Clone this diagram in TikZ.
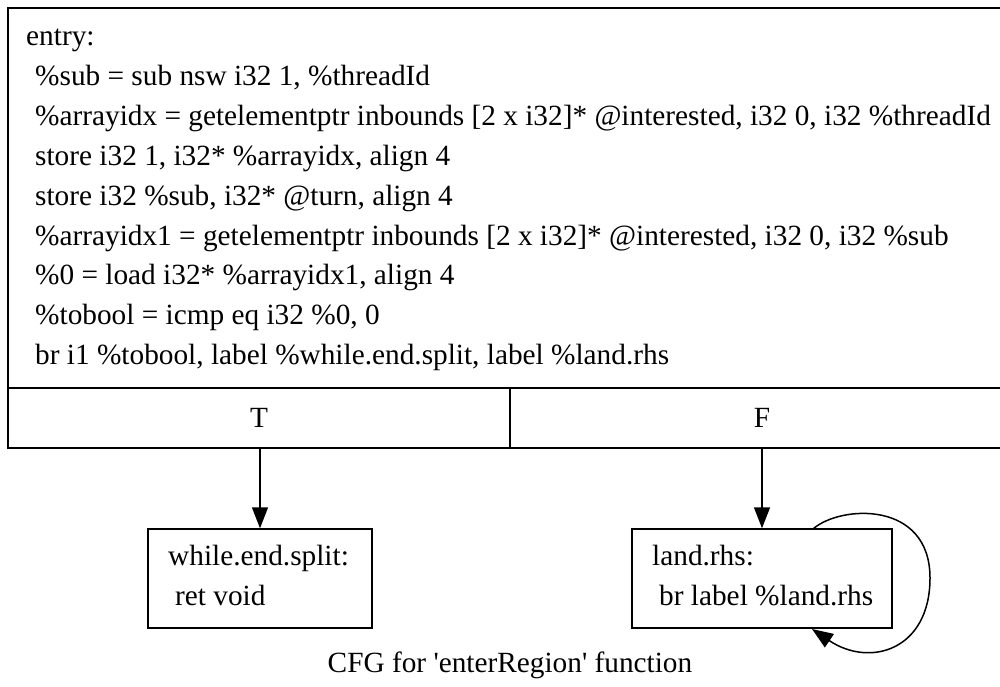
\documentclass[tikz,border=0pt]{standalone}
\usepackage{fontspec}
\newfontfamily\tnr{Liberation Serif}
\usetikzlibrary{arrows.meta}
\begin{document}
\begin{tikzpicture}[x=1pt,y=-1pt,
  boxframe/.style={draw=black, line width=1.5pt, inner sep=0pt},
  codetxt/.style={anchor=base west, inner sep=0pt, font=\tnr\fontsize{29.3}{40}\selectfont},
  celltxt/.style={draw=black, line width=1.5pt, inner sep=0pt, minimum height=60pt, font=\tnr\fontsize{29.3}{40}\selectfont},
  flow/.style={draw=black, line width=1.5pt, -{Triangle[length=21pt,width=16pt]}}]
\useasboundingbox (0,0) rectangle (1000,686);
\fill[white] (0,0) rectangle (1000,686);
\clip (0,0) rectangle (1000,686);
% entry block
\node[boxframe, minimum width=1006pt, minimum height=380pt] (entrybody) at (511,198) {};
\node[codetxt] (l1) at (26,45) {entry:};
\node[codetxt] (l2) at (35,85) {\%sub = sub nsw i32 1, \%threadId};
\node[codetxt] (l3) at (35,125) {\%arrayidx = getelementptr inbounds [2 x i32]* @interested, i32 0, i32 \%threadId};
\node[codetxt] (l4) at (35,165) {store i32 1, i32* \%arrayidx, align 4};
\node[codetxt] (l5) at (35,205) {store i32 \%sub, i32* @turn, align 4};
\node[codetxt] (l6) at (35,245) {\%arrayidx1 = getelementptr inbounds [2 x i32]* @interested, i32 0, i32 \%sub};
\node[codetxt] (l7) at (35,284) {\%0 = load i32* \%arrayidx1, align 4};
\node[codetxt] (l8) at (35,324) {\%tobool = icmp eq i32 \%0, 0};
\node[codetxt] (l9) at (35,364) {br i1 \%tobool, label \%while.end.split, label \%land.rhs};
\node[celltxt, minimum width=502pt] (entryT) at (259,418) {T};
\node[celltxt, minimum width=504pt] (entryF) at (762,418) {F};
% successor blocks
\node[boxframe, minimum width=224pt, minimum height=99pt] (whilebox) at (260,578.5) {};
\node[codetxt] (w1) at (168,565) {while.end.split:};
\node[codetxt] (w2) at (175,605) {ret void};
\node[boxframe, minimum width=260pt, minimum height=99pt] (landbox) at (762,578.5) {};
\node[codetxt] (r1) at (652,565) {land.rhs:};
\node[codetxt] (r2) at (659,605) {br label \%land.rhs};
% edges
\draw[flow] (whilebox.north |- entryT.south) -- (whilebox.north);
\draw[flow] (landbox.north |- entryF.south) -- (landbox.north);
\coordinate (loopstart) at (813,529);
\coordinate (loopend) at (812,629);
\draw[flow] (loopstart) .. controls (840,505) and (930,500) .. (930,578)
  .. controls (930,650) and (870,668) .. (loopend);
% caption
\node[codetxt, anchor=base] (caption) at (510,672) {CFG for 'enterRegion' function};
\end{tikzpicture}
\end{document}
